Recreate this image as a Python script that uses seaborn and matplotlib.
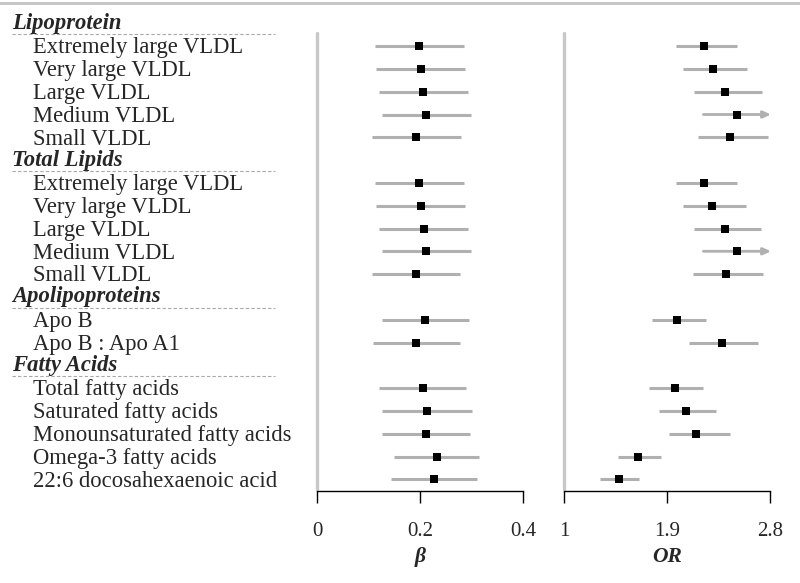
import numpy as np
import matplotlib
matplotlib.use("Agg")
import matplotlib.pyplot as plt
import matplotlib.transforms as mtransforms
from matplotlib.lines import Line2D
import pandas as pd
import seaborn as sns

# rows of the forest plot (headers have no estimate)
labels = ["Lipoprotein",
          "Extremely large VLDL", "Very large VLDL", "Large VLDL", "Medium VLDL", "Small VLDL",
          "Total Lipids",
          "Extremely large VLDL", "Very large VLDL", "Large VLDL", "Medium VLDL", "Small VLDL",
          "Apolipoproteins",
          "Apo B", "Apo B : Apo A1",
          "Fatty Acids",
          "Total fatty acids", "Saturated fatty acids", "Monounsaturated fatty acids",
          "Omega-3 fatty acids", "22:6 docosahexaenoic acid"]
is_header = [True, False, False, False, False, False,
             True, False, False, False, False, False,
             True, False, False,
             True, False, False, False, False, False]

nan = np.nan
beta = [nan, 0.199, 0.201, 0.206, 0.212, 0.193,
        nan, 0.199, 0.201, 0.207, 0.212, 0.192,
        nan, 0.210, 0.192,
        nan, 0.205, 0.213, 0.211, 0.233, 0.227]
beta_lo = [nan, 0.113, 0.115, 0.121, 0.126, 0.107,
           nan, 0.113, 0.115, 0.121, 0.127, 0.106,
           nan, 0.126, 0.108,
           nan, 0.120, 0.127, 0.126, 0.150, 0.144]
beta_hi = [nan, 0.285, 0.287, 0.294, 0.299, 0.279,
           nan, 0.285, 0.287, 0.294, 0.299, 0.278,
           nan, 0.296, 0.277,
           nan, 0.290, 0.300, 0.297, 0.315, 0.311]

odds = [nan, 2.226, 2.300, 2.410, 2.510, 2.454,
        nan, 2.226, 2.297, 2.410, 2.510, 2.416,
        nan, 1.990, 2.379,
        nan, 1.968, 2.066, 2.154, 1.650, 1.480]
odds_lo = [nan, 1.979, 2.037, 2.139, 2.218, 2.169,
           nan, 1.979, 2.037, 2.139, 2.218, 2.130,
           nan, 1.767, 2.096,
           nan, 1.740, 1.833, 1.915, 1.472, 1.315]
odds_hi = [nan, 2.510, 2.597, 2.728, 2.900, 2.786,
           nan, 2.510, 2.590, 2.722, 2.900, 2.740,
           nan, 2.239, 2.699,
           nan, 2.218, 2.329, 2.448, 1.851, 1.656]

df = pd.DataFrame({"label": labels, "header": is_header,
                   "beta": beta, "beta_lo": beta_lo, "beta_hi": beta_hi,
                   "or": odds, "or_lo": odds_lo, "or_hi": odds_hi})
df["row"] = np.arange(len(df))
est = df[~df["header"]]

sns.set_style("white")
plt.rcParams["font.family"] = ["Liberation Serif", "DejaVu Serif"]

W, H = 800, 583
fig = plt.figure(figsize=(8, 5.83), dpi=100)


def fy(px):
    return 1 - px / H


# row i sits at pixel 23.3 + 22.8 * i
top_i = (10 - 23.3) / 22.8
bot_i = (491 - 23.3) / 22.8
ax1 = fig.add_axes([317 / W, fy(491), 206 / W, (491 - 10) / H])
ax2 = fig.add_axes([564 / W, fy(491), 206 / W, (491 - 10) / H])

ci_col = "#b0b0b0"
panels = [(ax1, "beta", (0, 0.4), [0, 0.2, 0.4], ["0", "0.2", "0.4"], "β"),
          (ax2, "or", (1, 2.8), [1, 1.9, 2.8], ["1", "1.9", "2.8"], "OR")]

for ax, key, lim, ticks, ticklabels, name in panels:
    ax.set_xlim(*lim)
    ax.set_ylim(bot_i, top_i)
    # reference line at the null value
    ax.plot([lim[0], lim[0]], [(33 - 23.3) / 22.8, (489 - 23.3) / 22.8],
            color="#c8c8c8", lw=2.4, clip_on=False, zorder=1)
    for _, r in est.iterrows():
        hi = r[key + "_hi"]
        if hi > lim[1]:
            ax.annotate("", xy=(lim[1] + 0.01, r["row"]), xytext=(r[key + "_lo"], r["row"]),
                        arrowprops=dict(arrowstyle="-|>,head_length=0.45,head_width=0.2",
                                        color=ci_col, lw=2.0, shrinkA=0, shrinkB=0),
                        annotation_clip=False, zorder=2)
        else:
            ax.plot([r[key + "_lo"], hi], [r["row"], r["row"]], color=ci_col, lw=2.2,
                    solid_capstyle="butt", zorder=2)
    sns.scatterplot(data=est, x=key, y="row", marker="s", s=34, color="black",
                    edgecolor="black", linewidth=0, ax=ax, zorder=3)
    ax.set_ylim(bot_i, top_i)
    ax.set_xticks(ticks)
    ax.set_xticklabels(ticklabels, fontsize=15)
    ax.set_yticks([])
    ax.set_ylabel("")
    ax.set_xlabel(name, fontsize=15.5, fontweight="bold", style="italic", labelpad=4)
    for s in ["left", "right", "top"]:
        ax.spines[s].set_visible(False)
    ax.spines["bottom"].set_color("black")
    ax.spines["bottom"].set_linewidth(1.0)
    ax.tick_params(axis="x", bottom=True, direction="out", length=8.5, width=1.0,
                   color="black", pad=14)

# row labels on the left
trans = mtransforms.blended_transform_factory(fig.transFigure, ax1.transData)
for _, r in df.iterrows():
    if r["header"]:
        ax1.text(12 / W, r["row"], r["label"], transform=trans, fontsize=16.3,
                 fontweight="bold", style="italic", va="center", ha="left")
        ax1.add_line(Line2D([12 / W, 275 / W], [r["row"] + 0.47, r["row"] + 0.47],
                            transform=trans, color="#a8a8a8", lw=0.8,
                            ls=(0, (3, 2)), clip_on=False))
    else:
        ax1.text(33 / W, r["row"] + 0.08, r["label"], transform=trans, fontsize=16.3,
                 va="center", ha="left")

# thin grey rule across the top
fig.add_artist(Line2D([0, 1], [fy(3), fy(3)], transform=fig.transFigure,
                      color="#c4c4c4", lw=2))

fig.savefig("out.png", dpi=100)
